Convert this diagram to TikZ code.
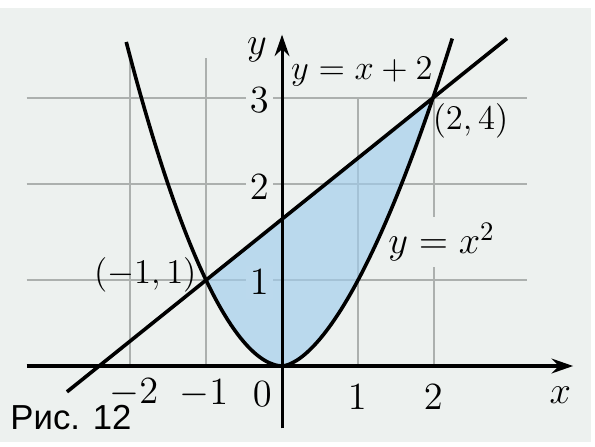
\documentclass[tikz,border=0pt]{standalone}
\usepackage{fontspec}
\newfontfamily\capfont{Liberation Sans}
\usetikzlibrary{arrows.meta}
\definecolor{bgcol}{RGB}{237,241,239}
\definecolor{regcol}{RGB}{160,205,236}
\definecolor{regshade}{RGB}{187,217,237}
\definecolor{gridcol}{RGB}{172,176,174}

\begin{document}
\begin{tikzpicture}[>={Stealth[length=8pt,width=5.5pt]},
  font=\fontsize{14.4}{17}\selectfont,
  gridline/.style={gridcol, line width=0.7pt},
  ticklbl/.style={fill=bgcol, inner sep=1.5pt},
  ptlbl/.style={font=\fontsize{12}{14}\selectfont, scale=1.08},
  graphline/.style={line width=1.35pt}]

\useasboundingbox (-3.711,-1.053) rectangle (4.118,4.816);
\fill[white] (-3.711,-1.053) rectangle (4.118,4.816);
\fill[bgcol] (-3.711,-1.0) rectangle (4.066,4.711);

% grid
\foreach \gy in {1.13,2.40,3.53}
  \draw[gridline] (-3.36,\gy) -- (3.22,\gy);
\foreach \gx/\gtop in {-2/4.05,-1/4.05,1/3.53,2/3.53}
  \draw[gridline] (\gx,0) -- (\gx,\gtop);

\node[ticklbl] (ytwo) at (-0.30,2.36) {$2$};
\node[ticklbl] (ythree) at (-0.30,3.50) {$3$};
\node[ptlbl, fill=bgcol, inner sep=1pt] (linelbl) at (1.05,3.87) {$y=x+2$};
\node[fill=bgcol, inner sep=2pt] (parlbl) at (2.10,1.63) {$y=x^2$};

% shaded region
\fill[regcol, opacity=0.65] plot[domain=-1:-0.001, samples=30] (\x,{1.13*pow(-\x,1.85)})
  -- plot[domain=0.001:1.99, samples=40] (\x,{1.13*pow(\x,1.66)}) -- cycle;
\node[ticklbl, fill=regshade] (yone) at (-0.30,1.10) {$1$};

% axes
\draw[->, line width=1.15pt] (-3.36,0) -- (3.83,0);
\draw[->, line width=1.15pt] (0,-0.82) -- (0,4.36);
\node (xlab) at (3.66,-0.38) {$x$};
\node (ylab) at (-0.33,4.16) {$y$};

\node (xmtwo) at (-1.95,-0.35) {$-2$};
\node (xmone) at (-1.03,-0.37) {$-1$};
\node (xzero) at (-0.26,-0.37) {$0$};
\node (xone) at (0.99,-0.41) {$1$};
\node (xtwo) at (1.99,-0.41) {$2$};

% y = x^2 and y = x + 2
\draw[graphline] plot[domain=-2.05:-0.001, samples=50] (\x,{1.13*pow(-\x,1.85)})
  -- plot[domain=0.001:2.24, samples=50] (\x,{1.13*pow(\x,1.66)});
\draw[graphline] (-2.83,-0.34) -- (2.96,4.31);

\node[ptlbl] (ptb) at (2.48,3.22) {$(2,4)$};
\node[ptlbl] (pta) at (-1.80,1.20) {$(-1,1)$};

\node[font=\capfont\fontsize{13}{15}\selectfont, anchor=base west, inner sep=0pt] (caption) at (-3.58,-0.83) {Рис. 12};

\end{tikzpicture}
\end{document}
